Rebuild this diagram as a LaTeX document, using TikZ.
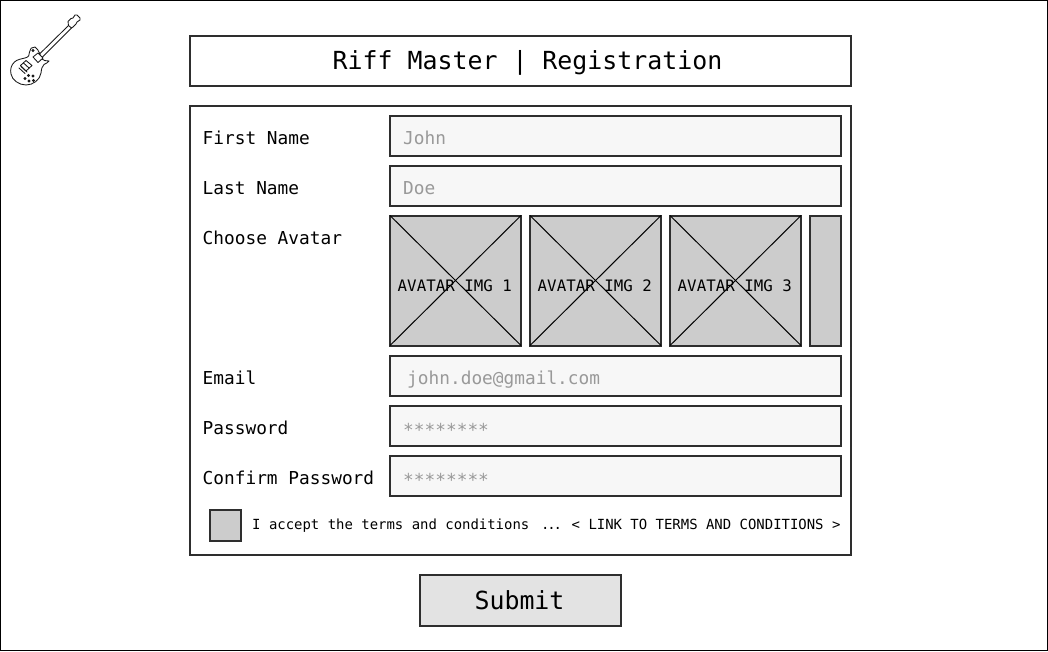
\documentclass[tikz,border=0pt]{standalone}
\usepackage{fontspec}
\setmonofont{DejaVu Sans Mono}
\tikzset{
 panel/.style={draw=black!82,line width=2pt,fill=white},
 field/.style={draw=black!82,line width=2pt,fill=black!3},
 imgbox/.style={draw=black!82,line width=2pt,fill=black!20},
 lab/.style={anchor=base west,inner sep=0pt,font=\ttfamily\fontsize{17.8}{20}\selectfont,text=black},
 hint/.style={lab,text=black!40},
 imgcap/.style={anchor=base,inner sep=0pt,font=\ttfamily\fontsize{15.8}{18}\selectfont},
 small/.style={anchor=base west,inner sep=0pt,font=\ttfamily\fontsize{13.95}{16}\selectfont},
 big/.style={anchor=base,inner sep=0pt,font=\ttfamily\fontsize{24.9}{28}\selectfont},
 gtr/.style={draw=black!90,line width=0.85pt,line join=round,line cap=round}
}
\begin{document}
\begin{tikzpicture}[x=1pt,y=-1pt]
\useasboundingbox (0,0) rectangle (1048,651);
\draw[black,line width=1.2pt,fill=white] (0.5,0.5) rectangle (1047.5,650.5);
% guitar body
\draw[gtr,fill=white] (35,47) .. controls (32,46.5) and (29.5,49) .. (29.5,52)
 .. controls (29.5,55) and (29,57) .. (25,58) .. controls (21,59) and (17,59.5) .. (14.5,62)
 .. controls (11,65) and (10,70) .. (11,74) .. controls (12,80) and (19,85) .. (26,85)
 .. controls (33,85) and (40,80) .. (41,73) .. controls (41.5,69) and (42,66) .. (44,64.5)
 .. controls (46,63.5) and (48,62.5) .. (49,61) .. controls (46,61) and (43,60.5) .. (42,59)
 .. controls (40,56) and (39.5,50) .. (35,47) -- cycle;
% neck
\draw[gtr] (37,56.5) -- (68.5,25.5) (40,59.5) -- (71.5,28);
% headstock
\draw[gtr,fill=white] (68.5,25.5) -- (68,21.5) -- (71,18.5) -- (73,18) -- (75,15) -- (77,15) -- (80,18)
 -- (80,20) -- (77,22) -- (76,24) -- (73,27) -- (71.5,28) -- cycle;
% neck pickup
\draw[gtr,fill=white] (33,57) -- (38,53) -- (43,58) -- (38,62.5) -- cycle;
% bridge pickup
\draw[gtr,fill=white] (26,60.5) -- (32,65.5) -- (26,71) -- (20.5,65.5) -- cycle;
\draw[gtr] (23.5,63) -- (29,68);
% tailpiece
\draw[gtr] (21,66.5) -- (27,72) (19,68) -- (25,73.5);
% knobs
\foreach \p in {(25,78.5),(28.5,75.5),(33,76),(29,81),(33.5,80.5),(33,50.5)}
  \draw[black!90,line width=0.8pt,fill=black!60] \p circle (1pt);
% title
\draw[panel] (190,35.5) rectangle (850.5,85.5);
\node[big] (titletext) at (527.5,69) {Riff Master | Registration};
% form
\draw[panel] (190,105.5) rectangle (850.5,555);
\foreach \nm/\yy/\lb/\hh in {a/115.5/First Name/John,b/165.5/Last Name/Doe,e/355.5/Email/{}}{
  \draw[field] (390,\yy) rectangle (840.5,\yy+40);
  \node[lab] (l\nm) at (202.5,\yy+28.5) {\lb};
  \node[hint] (h\nm) at (403,\yy+28.5) {\hh};
}
\foreach \nm/\yy/\lb/\hh in {p/405.5/Password/********,c/455.5/Confirm Password/********}{
  \draw[field] (390,\yy) rectangle (840.5,\yy+40);
  \node[lab] (l\nm) at (202.5,\yy+28.5) {\lb};
  \node[hint] (h\nm) at (403,\yy+31) {\hh};
}
\node[hint] (hmail) at (407,384) {john.doe@gmail.com};
\node[lab] (lav) at (202.5,244) {Choose Avatar};
\foreach \xx/\n in {390/1,530/2,670/3}{
  \draw[imgbox] (\xx,215.5) rectangle (\xx+131,345.5);
  \draw[black,line width=1pt] (\xx,215.5) -- (\xx+131,345.5) (\xx+131,215.5) -- (\xx,345.5);
  \node[imgcap] (av\n) at (\xx+64.8,291) {AVATAR IMG \n};
}
\draw[imgbox] (810,215.5) rectangle (840.5,345.5);
% terms
\draw[imgbox] (210,510) rectangle (240.5,540.5);
\node[small] (terms) at (252,529) {I accept the terms and conditions};
\node[small] (dots) at (541,529) {.\kern-2.2pt.\kern-2.2pt.};
\node[small] (link) at (571.5,529) {< LINK TO TERMS AND CONDITIONS >};
% submit
\draw[draw=black!82,line width=2pt,fill=black!11] (420,575) rectangle (620.5,625.5);
\node[big] (submit) at (519.5,609) {Submit};
\end{tikzpicture}
\end{document}
